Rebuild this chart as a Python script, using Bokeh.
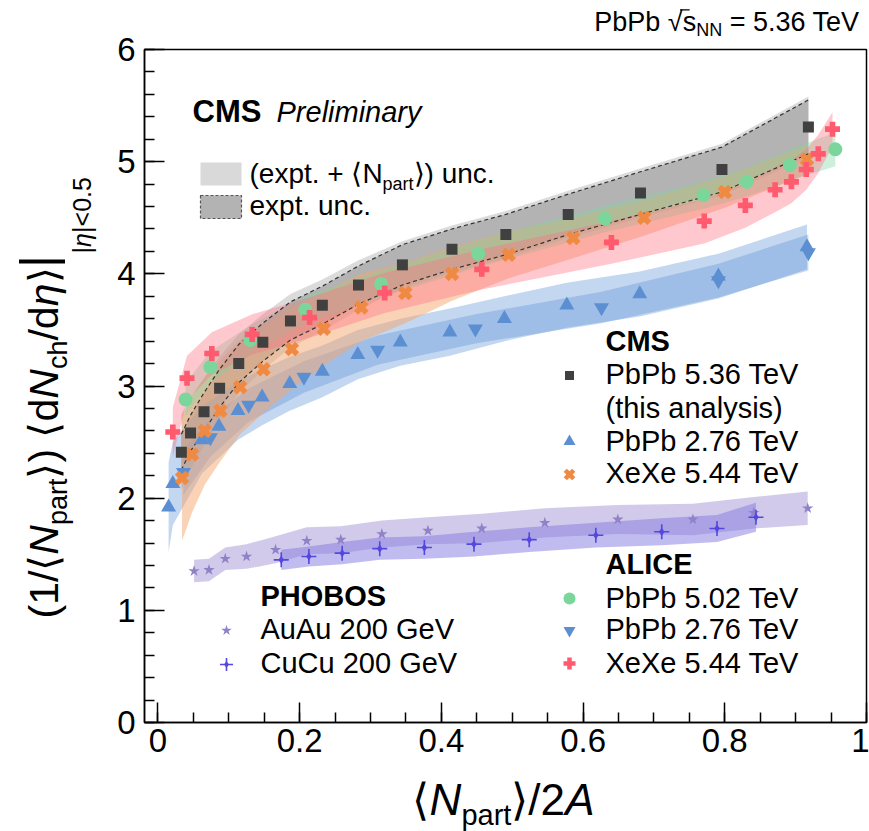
from math import pi
from bokeh.plotting import figure
from bokeh.models import Label, FixedTicker, Range1d
from bokeh.embed import file_html
from bokeh.resources import INLINE

# ---------------- data ----------------
cms536_x = [0.033, 0.046, 0.065, 0.087, 0.114, 0.148, 0.187, 0.232, 0.283, 0.345, 0.415, 0.491, 0.579, 0.681, 0.796, 0.918]
cms536_y = [2.41, 2.58, 2.77, 2.98, 3.20, 3.39, 3.58, 3.72, 3.90, 4.08, 4.22, 4.35, 4.53, 4.72, 4.93, 5.31]
cms536_exp = [0.16, 0.16, 0.17, 0.17, 0.17, 0.17, 0.17, 0.17, 0.17, 0.18, 0.18, 0.18, 0.18, 0.19, 0.20, 0.24]
cms536_tot = [0.34, 0.32, 0.30, 0.28, 0.26, 0.25, 0.24, 0.23, 0.22, 0.21, 0.21, 0.21, 0.21, 0.22, 0.23, 0.27]

cms276_x = [0.015, 0.021, 0.062, 0.086, 0.113, 0.147, 0.186, 0.232, 0.282, 0.342, 0.412, 0.489, 0.577, 0.680, 0.791, 0.916]
cms276_y = [1.92, 2.13, 2.52, 2.64, 2.78, 2.90, 3.02, 3.13, 3.28, 3.39, 3.48, 3.60, 3.72, 3.82, 3.98, 4.24]
cms276_unc = [0.40, 0.37, 0.30, 0.28, 0.26, 0.25, 0.24, 0.23, 0.22, 0.21, 0.21, 0.20, 0.20, 0.20, 0.20, 0.20]

alice276_x = [0.036, 0.074, 0.128, 0.206, 0.310, 0.448, 0.626, 0.791, 0.918]
alice276_y = [2.23, 2.54, 2.83, 3.08, 3.32, 3.51, 3.70, 3.94, 4.19]
alice276_unc = [0.20, 0.17, 0.15, 0.14, 0.13, 0.13, 0.14, 0.15, 0.16]

cmsxe_x = [0.034, 0.048, 0.066, 0.088, 0.116, 0.149, 0.189, 0.234, 0.287, 0.349, 0.415, 0.495, 0.586, 0.686, 0.800, 0.916]
cmsxe_y = [2.18, 2.39, 2.60, 2.78, 2.99, 3.15, 3.33, 3.51, 3.70, 3.83, 4.00, 4.17, 4.32, 4.50, 4.73, 5.02]
cmsxe_unc = [0.56, 0.52, 0.48, 0.45, 0.42, 0.39, 0.36, 0.33, 0.30, 0.27, 0.24, 0.21, 0.18, 0.16, 0.14, 0.13]

alice502_x = [0.039, 0.074, 0.130, 0.208, 0.315, 0.452, 0.631, 0.770, 0.831, 0.892, 0.956]
alice502_y = [2.88, 3.17, 3.41, 3.68, 3.91, 4.18, 4.49, 4.70, 4.82, 4.97, 5.11]
alice502_unc = [0.15, 0.14, 0.13, 0.12, 0.12, 0.12, 0.12, 0.12, 0.13, 0.14, 0.15]

alicexe_x = [0.021, 0.041, 0.076, 0.133, 0.214, 0.320, 0.457, 0.640, 0.771, 0.829, 0.871, 0.894, 0.915, 0.932, 0.952]
alicexe_y = [2.59, 3.07, 3.29, 3.46, 3.61, 3.83, 4.04, 4.28, 4.47, 4.61, 4.75, 4.82, 4.93, 5.07, 5.29]
alicexe_unc = [0.22, 0.20, 0.19, 0.18, 0.18, 0.18, 0.18, 0.19, 0.20, 0.20, 0.20, 0.19, 0.18, 0.17, 0.15]

auau_x = [0.051, 0.072, 0.095, 0.125, 0.166, 0.210, 0.258, 0.316, 0.381, 0.457, 0.546, 0.649, 0.755, 0.841, 0.917]
auau_y = [1.35, 1.36, 1.46, 1.48, 1.54, 1.62, 1.63, 1.68, 1.71, 1.73, 1.78, 1.81, 1.81, 1.87, 1.91]
auau_unc = [0.10, 0.10, 0.10, 0.11, 0.12, 0.12, 0.12, 0.12, 0.12, 0.13, 0.13, 0.13, 0.14, 0.14, 0.15]

cucu_x = [0.174, 0.213, 0.260, 0.313, 0.376, 0.446, 0.524, 0.618, 0.711, 0.789, 0.844]
cucu_y = [1.45, 1.48, 1.51, 1.55, 1.56, 1.59, 1.63, 1.67, 1.70, 1.73, 1.83]
cucu_unc = [0.09, 0.09, 0.10, 0.10, 0.10, 0.11, 0.11, 0.11, 0.12, 0.12, 0.13]

x_ticks = [0, 0.2, 0.4, 0.6, 0.8, 1]
x_tick_labels = ["0", "0.2", "0.4", "0.6", "0.8", "1"]
y_ticks = [0, 1, 2, 3, 4, 5, 6]

# ---------------- layout ----------------
W, H = 869, 831
FL, FR, FT, FB = 144, 866, 49, 722          # pixel box of the plotted area
X0, X1 = -0.019, 1.0
Y0, Y1 = 0.0, 6.0
SX = (X1 - X0) / (FR - FL)
SY = (Y1 - Y0) / (FB - FT)
XS, XE = X0 - FL * SX, X1 + (W - FR) * SX
YS, YE = Y0 - (H - FB) * SY, Y1 + FT * SY
FONT = "Liberation Sans"
MID = 0.36  # baseline lies MID*size below the 'middle' anchor


def dx(px):
    return XS + px * SX


def dy(py):
    return YE - py * SY


p = figure(width=W, height=H, x_range=Range1d(XS, XE), y_range=Range1d(YS, YE),
           output_backend="svg", toolbar_location=None, min_border=0)
p.background_fill_color = "white"
p.border_fill_color = "white"
p.outline_line_color = None
p.xgrid.visible = False
p.ygrid.visible = False

p.xaxis.fixed_location = Y0
p.xaxis.bounds = (X0, X1)
p.yaxis.fixed_location = X0
p.yaxis.bounds = (Y0, Y1)
p.xaxis.ticker = FixedTicker(ticks=x_ticks, minor_ticks=[round(i * 0.05, 2) for i in range(21)])
p.xaxis.major_label_overrides = {t: l for t, l in zip(x_ticks, x_tick_labels)}
p.yaxis.ticker = FixedTicker(ticks=y_ticks, minor_ticks=[round(i * 0.2, 1) for i in range(31)])
for ax in (p.xaxis, p.yaxis):
    ax.major_tick_in = 20
    ax.major_tick_out = 0
    ax.minor_tick_in = 10
    ax.minor_tick_out = 0
    ax.axis_line_width = 1.5
    ax.major_tick_line_width = 1.5
    ax.minor_tick_line_width = 1.5
    ax.major_label_text_font = FONT
    ax.major_label_text_font_size = "33px"
    ax.major_label_text_color = "black"
p.xaxis.major_label_standoff = 6
p.yaxis.major_label_standoff = 9


def band(xs, ys, us, color, alpha):
    p.varea(x=xs, y1=[y - u for y, u in zip(ys, us)], y2=[y + u for y, u in zip(ys, us)],
            fill_color=color, fill_alpha=alpha)


# bands
band(cms536_x, cms536_y, cms536_tot, "#b8b8b8", 0.5)
band(cms536_x, cms536_y, cms536_exp, "#8c8c8c", 0.5)
band(cms276_x, cms276_y, cms276_unc, "#6f9fdc", 0.42)
band(alice276_x, alice276_y, alice276_unc, "#5b8fd6", 0.35)
band(cmsxe_x, cmsxe_y, cmsxe_unc, "#f5a66e", 0.5)
band(alice502_x, alice502_y, alice502_unc, "#7fd6a0", 0.38)
band(alicexe_x, alicexe_y, alicexe_unc, "#ff6f80", 0.38)
band(auau_x, auau_y, auau_unc, "#b2a6dc", 0.6)
band(cucu_x, cucu_y, cucu_unc, "#8479e0", 0.5)

p.line(cms536_x, [y + u for y, u in zip(cms536_y, cms536_exp)], line_color="#333333", line_dash="4 3", line_width=1.2)
p.line(cms536_x, [y - u for y, u in zip(cms536_y, cms536_exp)], line_color="#333333", line_dash="4 3", line_width=1.2)

# frame box
p.quad(left=X0, right=X1, bottom=Y0, top=Y1, fill_color=None, line_color="black", line_width=1.5)

# markers
C_BLUE = "#5b8fd1"
C_ORANGE = "#f08a42"
C_GREEN = "#7ad69b"
C_RED = "#ff5a6e"
C_AUAU = "#9182c8"
C_CUCU = "#5447e0"
C_BLACK = "#404040"


def cucu_marker(xs, ys, s):
    p.scatter(xs, ys, marker="cross", size=s, line_color=C_CUCU, line_width=1.6)
    p.scatter(xs, ys, marker="diamond", size=s * 0.55, fill_color=C_CUCU, line_color=None)


p.scatter(auau_x, auau_y, marker="star", size=12, fill_color=C_AUAU, line_color=None)
cucu_marker(cucu_x, cucu_y, 15)
p.scatter(cms276_x, cms276_y, marker="triangle", size=15, fill_color=C_BLUE, line_color=None)
p.scatter(alice276_x, alice276_y, marker="inverted_triangle", size=15, fill_color=C_BLUE, line_color=None)
p.scatter(cmsxe_x, cmsxe_y, marker="plus", angle=pi / 4, size=15, fill_color=C_ORANGE, line_color=None)
p.scatter(alice502_x, alice502_y, marker="circle", size=14, fill_color=C_GREEN, line_color=None)
p.scatter(alicexe_x, alicexe_y, marker="plus", size=15, fill_color=C_RED, line_color=None)
p.scatter(cms536_x, cms536_y, marker="square", size=11, fill_color=C_BLACK, line_color=None)

# ---------------- text helpers ----------------
CW = {' ': 0.278, '(': 0.333, ')': 0.333, '1': 0.556, '/': 0.278, '⟨': 0.39, '⟩': 0.39, 'N': 0.722,
      'p': 0.556, 'a': 0.556, 'r': 0.333, 't': 0.278, 'd': 0.556, 'c': 0.5, 'h': 0.556, 'η': 0.56,
      '|': 0.26, '<': 0.584, '0': 0.556, '.': 0.278, '5': 0.556, '2': 0.556, 'A': 0.667, 'e': 0.556,
      'x': 0.5, '+': 0.584, 'u': 0.556, 'n': 0.556, 's': 0.5, 'P': 0.667, 'b': 0.556, '√': 0.55,
      '=': 0.584, '3': 0.556, '6': 0.556, 'T': 0.611, 'V': 0.667}


def tw(s, f):
    return sum(CW.get(c, 0.556) for c in s) * f


def lab(px, py, text, size, style="normal", align="left", angle=0.0):
    p.add_layout(Label(x=dx(px), y=dy(py), text=text, text_font=FONT, text_font_size=f"{size}px",
                       text_font_style=style, text_align=align, text_baseline="middle",
                       text_color="black", angle=angle))


def text_base(px, base, text, size, style="normal", align="left"):
    """place text with its alphabetic baseline at pixel row `base`"""
    lab(px, base - MID * size, text, size, style, align)


def pieces_h(segs, x, yb, align="left"):
    # segs: (text, size, style, baseline shift, extra advance after)
    total = sum(tw(t, s) + g for t, s, st, d, g in segs)
    if align == "right":
        x -= total
    elif align == "center":
        x -= total / 2
    pos = []
    for t, s, st, d, g in segs:
        pos.append(x)
        text_base(x, yb + d, t, s, st)
        x += tw(t, s) + g
    pos.append(x)
    return pos


def pieces_v(segs, xb, y):
    # rotated text reading upward; xb = baseline column, y = start (bottom) pixel
    for t, s, st, d, g in segs:
        L = tw(t, s)
        lab(xb + d - MID * s, y - L / 2, t, s, st, align="center", angle=pi / 2)
        y -= L + g
    return y


# y axis title
YF, YSF = 41, 27
yend = pieces_v([("(1/⟨", YF, "normal", 0, 0), ("N", YF, "italic", 0, 0), ("part", YSF, "normal", 9, 0),
                 ("⟩)", YF, "normal", 0, 0.278 * YF), ("⟨d", YF, "normal", 0, 0), ("N", YF, "italic", 0, 0),
                 ("ch", YSF, "normal", 9, 0), ("/d", YF, "normal", 0, 0), ("η", YF, "italic", 0, 0),
                 ("⟩", YF, "normal", 0, 0)], 58, 618)
lab(55 - MID * 50, yend - 6, "|", 50, align="center", angle=pi / 2)
pieces_v([("|", 25, "normal", 0, 0), ("η", 25, "italic", 0, 0), ("|<0.5", 25, "normal", 0, 0)], 90, yend - 14)

# x axis title
pieces_h([("⟨", 44, "normal", 0, 0), ("N", 44, "italic", 0, 0), ("part", 29, "normal", 10, 0),
          ("⟩/2", 44, "normal", 0, 0), ("A", 44, "italic", 0, 0)], 503, 815, align="center")

# top right title
TF = 27
tpos = pieces_h([("PbPb", TF, "normal", 0, 0.278 * TF), ("√", TF, "normal", 0, 0), ("s", TF, "normal", 0, 0),
                 ("NN", 18, "normal", 5, 0.278 * TF), ("=", TF, "normal", 0, 0.278 * TF),
                 ("5.36 TeV", TF, "normal", 0, 0)], 862, 31, align="right")
p.segment(x0=[dx(tpos[1] + 0.45 * TF)], y0=[dy(31 - 0.80 * TF)], x1=[dx(tpos[3] - 0.278 * TF + 1)],
          y1=[dy(31 - 0.80 * TF)], line_color="black", line_width=1.3)

# CMS Preliminary
text_base(192, 122, "CMS", 31, "bold")
text_base(276, 122, "Preliminary", 29, "italic")

# uncertainty legend
p.quad(left=dx(200), right=dx(241), top=dy(162), bottom=dy(185), fill_color="#d9d9d9", line_color=None)
p.quad(left=dx(200), right=dx(241), top=dy(195), bottom=dy(218), fill_color="#b3b3b3",
       line_color="#555555", line_dash="3 2", line_width=1.2)
pieces_h([("(expt. + ⟨N", 28, "normal", 0, 0), ("part", 18, "normal", 7, 0), ("⟩) unc.", 28, "normal", 0, 0)],
         249, 183)
text_base(249, 215, "expt. unc.", 28)

LF = 29
# CMS legend
lab(605, 340, "CMS", LF, "bold")
lab(605, 373, "PbPb 5.36 TeV", LF)
lab(605, 407, "(this analysis)", LF)
lab(605, 440, "PbPb 2.76 TeV", LF)
lab(605, 472, "XeXe 5.44 TeV", LF)
p.scatter([dx(569)], [dy(375)], marker="square", size=9, fill_color=C_BLACK, line_color=None)
p.scatter([dx(569)], [dy(441)], marker="triangle", size=12, fill_color=C_BLUE, line_color=None)
p.scatter([dx(569)], [dy(474)], marker="plus", angle=pi / 4, size=12, fill_color=C_ORANGE, line_color=None)

# ALICE legend
lab(605, 563, "ALICE", LF, "bold")
lab(605, 597, "PbPb 5.02 TeV", LF)
lab(605, 628, "PbPb 2.76 TeV", LF)
lab(605, 662, "XeXe 5.44 TeV", LF)
p.scatter([dx(569)], [dy(598)], marker="circle", size=12, fill_color=C_GREEN, line_color=None)
p.scatter([dx(569)], [dy(630)], marker="inverted_triangle", size=12, fill_color=C_BLUE, line_color=None)
p.scatter([dx(569)], [dy(663)], marker="plus", size=12, fill_color=C_RED, line_color=None)

# PHOBOS legend
lab(260, 595, "PHOBOS", LF, "bold")
lab(260, 628, "AuAu 200 GeV", LF)
lab(260, 662, "CuCu 200 GeV", LF)
p.scatter([dx(226)], [dy(630)], marker="star", size=11, fill_color=C_AUAU, line_color=None)
cucu_marker([dx(226)], [dy(664)], 13)

open("out.html", "w").write(file_html(p, INLINE))
